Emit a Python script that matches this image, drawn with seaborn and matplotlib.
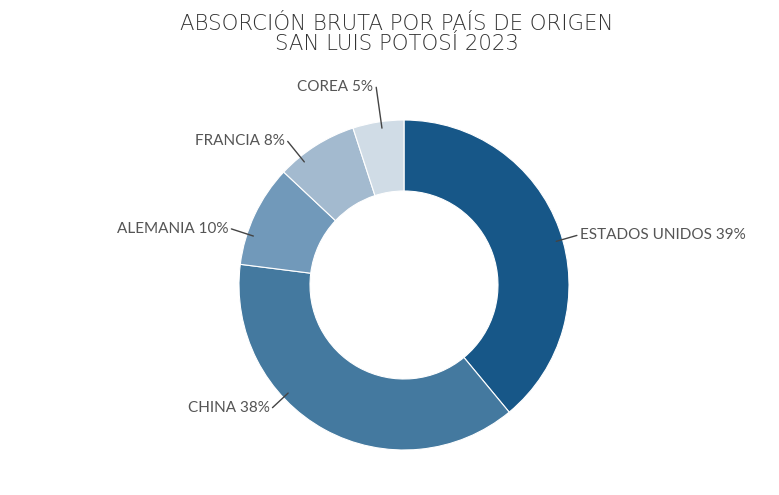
import numpy as np
import seaborn as sns
import matplotlib.pyplot as plt

# data (clockwise from 12 o'clock)
paises = ["ESTADOS UNIDOS", "CHINA", "ALEMANIA", "FRANCIA", "COREA"]
porcentajes = [39, 38, 10, 8, 5]
colores = ["#175788", "#44799f", "#7199ba", "#a3bacf", "#d0dce6"]

# leader line layout: angle (deg clockwise from top) and outer end radius factor
label_angles = [74, 227, 288, 321, 352]
label_ends = [1.09, 1.09, 1.10, 1.12, 1.21]

sns.set_theme(style="white")
plt.rcParams["font.family"] = ["Lato", "DejaVu Sans"]

fig = plt.figure(figsize=(7.79, 4.95), dpi=100)
ax = fig.add_axes([0, 0, 1, 1])

cx, cy, R = 404, 210, 165
ax.pie(porcentajes, colors=colores, startangle=90, counterclock=False,
       center=(cx, cy), radius=R, frame=True,
       wedgeprops=dict(width=71, edgecolor="white", linewidth=0.8))
ax.set_xlim(0, 779)
ax.set_ylim(0, 495)
ax.set_aspect("equal")
ax.axis("off")

for pais, pct, ang, rend in zip(paises, porcentajes, label_angles, label_ends):
    t = np.deg2rad(ang)
    sx, sy = cx + 0.96 * R * np.sin(t), cy + 0.96 * R * np.cos(t)
    ex, ey = cx + rend * R * np.sin(t), cy + rend * R * np.cos(t)
    ax.plot([sx, ex], [sy, ey], color="#444444", lw=1)
    right = np.sin(t) > 0
    ax.text(ex + (3 if right else -3), ey, f"{pais} {pct}%",
            ha="left" if right else "right", va="center",
            fontsize=11, color="#555555")

fig.text(0.509, 0.931, "ABSORCIÓN BRUTA POR PAÍS DE ORIGEN\nSAN LUIS POTOSÍ 2023",
         ha="center", va="center", fontsize=15.3, color="#333333",
         fontweight="light", linespacing=1.0, family=["DejaVu Sans"])

fig.savefig("out.png", dpi=100)
